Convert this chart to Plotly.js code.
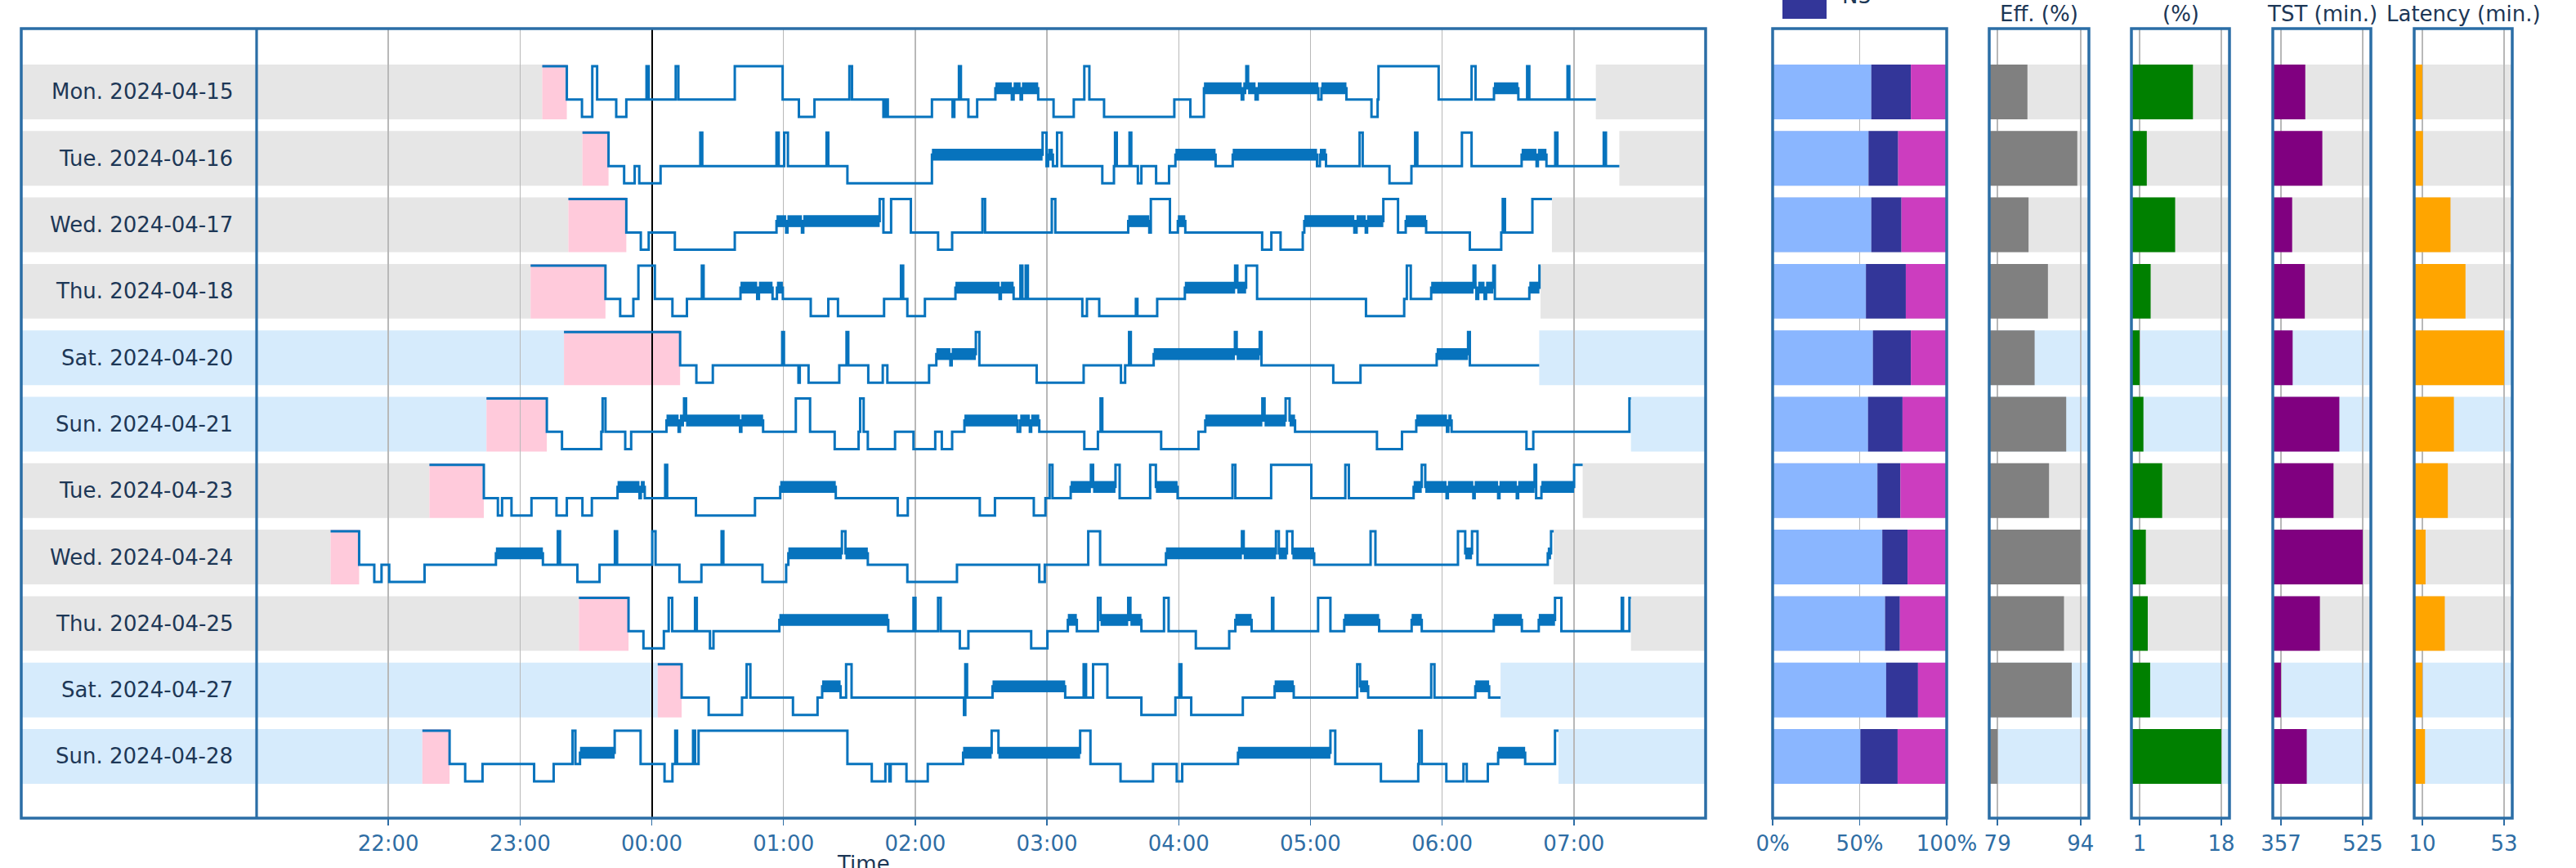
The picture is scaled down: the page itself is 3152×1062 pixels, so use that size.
<!DOCTYPE html>
<html><head><meta charset="utf-8">
<script src="https://cdn.plot.ly/plotly-3.0.1.min.js"></script>
<style>html,body{margin:0;padding:0;background:#fff}#chart{width:3152px;height:1062px}</style>
</head><body><div id="chart"></div>
<script>
// ---------------- data ----------------
const nightLabels = ['Mon. 2024-04-15','Tue. 2024-04-16','Wed. 2024-04-17','Thu. 2024-04-18','Sat. 2024-04-20','Sun. 2024-04-21','Tue. 2024-04-23','Wed. 2024-04-24','Thu. 2024-04-25','Sat. 2024-04-27','Sun. 2024-04-28'];
const weekend = [false,false,false,false,true,true,false,false,false,true,true];
// minutes relative to midnight: [start, stage]; first entry = lights off (awake in bed), second = sleep onset
const hyp0 = [[-49.9,'W'],[-38.7,'L'],[-31.8,'D'],[-27.1,'W'],[-24.9,'L'],[-16.2,'D'],[-11.6,'L'],[-2.4,'W'],[-1.4,'L'],[10.9,'W'],[12.1,'L'],[37.8,'W'],[59.6,'L'],[67,'D'],[74.1,'L'],[90,'W'],[91.2,'L'],[105.5,'D'],[106.5,'L'],[107.5,'D'],[127.6,'L'],[137,'D'],[137.8,'L'],[139.9,'W'],[140.8,'L'],[144.2,'D'],[148.2,'L'],[156.5,'R'],[164,'L'],[164.8,'R'],[168,'L'],[168.6,'R'],[176,'L'],[183,'D'],[192.2,'L'],[197,'W'],[199.3,'L'],[206,'D'],[238,'L'],[245.3,'D'],[251.5,'R'],[268.7,'L'],[269.4,'R'],[270.8,'W'],[271.6,'R'],[275,'L'],[276,'R'],[303.6,'L'],[305,'R'],[316.4,'L'],[327.8,'D'],[330.6,'L'],[331,'W'],[358.4,'L'],[373.4,'W'],[375.2,'L'],[383.6,'R'],[394.7,'L'],[398.7,'W'],[399.7,'L'],[417.1,'W'],[417.9,'L']];
const hyp1 = [[-31.6,'W'],[-19.7,'L'],[-12.6,'D'],[-7.8,'L'],[-5.7,'D'],[4,'L'],[22.1,'W'],[23,'L'],[56.8,'W'],[57.8,'L'],[60.3,'W'],[62,'L'],[79.6,'W'],[80.4,'L'],[89.1,'D'],[127.6,'R'],[178,'W'],[179.8,'L'],[180.5,'R'],[182.7,'L'],[184.6,'W'],[186.7,'L'],[205.2,'D'],[210.5,'L'],[211,'W'],[211.8,'L'],[217.6,'W'],[218.4,'L'],[221.4,'D'],[223,'L'],[229.7,'D'],[235.6,'L'],[238.5,'R'],[256.8,'L'],[264.6,'R'],[303,'L'],[304.3,'R'],[307.1,'L'],[322.4,'W'],[323.8,'L'],[336,'D'],[346,'L'],[347.7,'W'],[348.7,'L'],[369,'W'],[373.4,'L'],[396.2,'R'],[403,'L'],[403.6,'R'],[407.5,'L'],[411.5,'W'],[412.5,'L'],[433.6,'W'],[434.6,'L']];
const hyp2 = [[-38,'W'],[-11.6,'L'],[-5,'D'],[-1.4,'L'],[10.5,'D'],[37.8,'L'],[56.8,'R'],[61.2,'L'],[61.8,'R'],[68.4,'L'],[69,'R'],[103.8,'W'],[105.5,'L'],[109,'W'],[118,'L'],[130.4,'D'],[136.8,'L'],[150.6,'W'],[151.8,'L'],[182.2,'W'],[183.8,'L'],[217,'R'],[226.6,'L'],[227.3,'W'],[236,'L'],[239.6,'R'],[243,'L'],[278,'D'],[282.2,'L'],[286.4,'D'],[296.5,'L'],[297.2,'R'],[320,'L'],[321,'R'],[325.2,'L'],[325.8,'R'],[333.2,'W'],[339.9,'L'],[343.4,'R'],[352.7,'L'],[372.6,'D'],[386.9,'L'],[387.6,'W'],[388.6,'L'],[401.1,'W']];
const hyp3 = [[-55.2,'W'],[-21.1,'L'],[-14.4,'D'],[-8.4,'L'],[-6.1,'W'],[1.4,'L'],[9.4,'D'],[16,'L'],[22.8,'W'],[23.6,'L'],[40.4,'R'],[48,'L'],[48.8,'R'],[55,'L'],[57,'R'],[59.7,'L'],[72.4,'D'],[80.4,'L'],[84.8,'D'],[105.8,'L'],[113.5,'W'],[114.5,'L'],[116.4,'D'],[124.4,'L'],[138.3,'R'],[158.4,'L'],[159,'R'],[164.8,'L'],[167.9,'W'],[168.8,'L'],[170.3,'W'],[171.3,'L'],[196.1,'D'],[198.2,'L'],[203.8,'D'],[220.5,'L'],[221.2,'D'],[230.2,'L'],[242.8,'R'],[265.7,'W'],[266.7,'R'],[270.7,'W'],[275.7,'L'],[325.3,'D'],[342.7,'L'],[343.9,'W'],[345.7,'L'],[355,'R'],[374.3,'W'],[375.1,'R'],[375.6,'L'],[376.4,'R'],[379.3,'L'],[380,'R'],[383.3,'W'],[384,'L'],[399.7,'R'],[404.3,'W']];
const hyp4 = [[-40,'W'],[12.9,'L'],[20.3,'D'],[27.8,'L'],[59.4,'W'],[60.2,'L'],[66.8,'D'],[67.4,'L'],[71.4,'D'],[85.4,'L'],[88.7,'W'],[89.5,'L'],[98.6,'D'],[105.2,'L'],[107.3,'D'],[126.3,'L'],[129.6,'R'],[136,'L'],[136.6,'R'],[147.6,'W'],[149.2,'L'],[175.3,'D'],[196.7,'L'],[213.7,'D'],[215.6,'L'],[217.4,'W'],[218.2,'L'],[228.6,'R'],[265.6,'W'],[266.4,'R'],[276.9,'W'],[277.7,'L'],[310.4,'D'],[322.8,'L'],[357.5,'R'],[371.8,'W'],[372.6,'L']];
const hyp5 = [[-75.3,'W'],[-47.8,'L'],[-40.9,'D'],[-23,'L'],[-22.4,'W'],[-21.1,'L'],[-12.1,'D'],[-9.4,'L'],[6.7,'R'],[12.2,'L'],[12.8,'R'],[14.7,'W'],[15.6,'R'],[40.2,'L'],[40.8,'R'],[50.7,'L'],[65.6,'W'],[72.1,'L'],[83.3,'D'],[94.2,'L'],[94.9,'W'],[96.5,'L'],[98.4,'D'],[110.8,'L'],[119.2,'D'],[129.1,'L'],[132.1,'D'],[136.8,'L'],[142.4,'R'],[166.6,'L'],[167.8,'R'],[172.2,'L'],[172.8,'R'],[176.5,'L'],[197,'D'],[203.2,'L'],[204.4,'W'],[205.2,'L'],[232,'D'],[249,'L'],[252.1,'R'],[278.1,'W'],[279.1,'R'],[288.7,'W'],[290.5,'R'],[293,'L'],[330.3,'D'],[341.7,'L'],[348.2,'R'],[362.2,'L'],[362.8,'R'],[364.3,'L'],[398.4,'D'],[401.5,'L'],[445.3,'W']];
const hyp6 = [[-101.3,'W'],[-76.5,'L'],[-70.1,'D'],[-68.2,'L'],[-63.9,'D'],[-54.8,'L'],[-43.4,'D'],[-38.7,'L'],[-31.6,'D'],[-27.3,'L'],[-15.6,'R'],[-5.6,'L'],[-5,'R'],[-3.2,'L'],[6.1,'W'],[7,'L'],[20.1,'D'],[47,'L'],[58.5,'R'],[83.8,'L'],[112,'D'],[116.6,'L'],[149.4,'D'],[156.3,'L'],[174,'D'],[179.3,'L'],[181.2,'W'],[182.5,'L'],[190.8,'R'],[200,'W'],[201,'R'],[211.2,'W'],[213.1,'L'],[227,'W'],[229.6,'R'],[239.5,'L'],[264.5,'W'],[265.8,'L'],[282.1,'W'],[300.4,'L'],[315.9,'W'],[317.5,'L'],[347,'R'],[350.7,'W'],[352.3,'R'],[362,'L'],[362.6,'R'],[374.2,'L'],[374.8,'R'],[385.5,'L'],[386.1,'R'],[394,'L'],[394.6,'R'],[402.1,'W'],[402.8,'L'],[405.2,'R'],[420.1,'W']];
const hyp7 = [[-146.3,'W'],[-133.3,'L'],[-126.4,'D'],[-123.1,'L'],[-119.6,'D'],[-103.5,'L'],[-71,'R'],[-49.6,'L'],[-42.8,'W'],[-41.8,'L'],[-33.9,'D'],[-23.8,'L'],[-16.8,'W'],[-15.8,'L'],[0.2,'W'],[1.7,'L'],[12.6,'D'],[22.6,'L'],[31.8,'W'],[32.6,'L'],[50.4,'D'],[61.2,'L'],[62.2,'R'],[86.6,'W'],[88.2,'R'],[98.4,'L'],[116.4,'D'],[139,'L'],[176.5,'D'],[179,'L'],[198.8,'W'],[204.2,'L'],[234.2,'R'],[268.8,'W'],[269.6,'R'],[284.3,'W'],[285.6,'R'],[289.3,'W'],[291.8,'R'],[301.7,'L'],[327.4,'W'],[329.6,'L'],[367.2,'W'],[370.5,'R'],[373.6,'W'],[376.1,'L'],[408.1,'R'],[409.6,'W']];
const hyp8 = [[-33.2,'W'],[-10.6,'L'],[-3.8,'D'],[5.5,'L'],[7.7,'W'],[9.3,'L'],[19.7,'W'],[20.5,'L'],[26.5,'D'],[28.1,'L'],[58.1,'R'],[107.7,'L'],[119.2,'W'],[120.1,'L'],[130.4,'W'],[131.6,'L'],[140.3,'D'],[144.2,'L'],[172.8,'D'],[180.2,'L'],[189.5,'R'],[193.6,'L'],[203.2,'W'],[204.4,'R'],[217,'W'],[218,'R'],[223,'L'],[233.3,'W'],[235.4,'L'],[247.8,'D'],[263,'L'],[265.8,'R'],[273.2,'L'],[282.5,'W'],[283.1,'L'],[303.5,'W'],[309.1,'L'],[315.4,'R'],[331.3,'L'],[346.1,'R'],[350.7,'L'],[383.5,'R'],[396.3,'L'],[404,'R'],[411.4,'W'],[414.3,'L'],[441.8,'W'],[442.4,'L'],[445.3,'W']];
const hyp9 = [[2.7,'W'],[13.6,'L'],[25.9,'D'],[41.1,'L'],[43.2,'W'],[44.9,'L'],[64.3,'D'],[75.5,'L'],[77.6,'R'],[86,'L'],[88.5,'W'],[91,'L'],[142.2,'D'],[142.8,'W'],[143.6,'L'],[155.2,'R'],[188.3,'L'],[196.7,'W'],[197.8,'L'],[201,'W'],[207.5,'L'],[223,'D'],[238.5,'L'],[240.3,'W'],[241.2,'L'],[245.7,'D'],[269.2,'L'],[283.7,'R'],[292.4,'L'],[321.3,'W'],[322.6,'R'],[326.3,'L'],[355,'W'],[356.5,'L'],[375.1,'R'],[381.4,'L']];
const hyp10 = [[-104.5,'W'],[-92.1,'L'],[-85,'D'],[-77.1,'L'],[-53.6,'D'],[-44.7,'L'],[-36.1,'W'],[-34.8,'L'],[-32.7,'R'],[-16.9,'W'],[-5.1,'L'],[5.8,'D'],[9.4,'L'],[10.7,'W'],[11.5,'L'],[18.8,'W'],[19.7,'L'],[21.3,'W'],[89.1,'L'],[100.2,'D'],[106.4,'L'],[108.2,'D'],[108.8,'L'],[116,'D'],[125.7,'L'],[141.8,'R'],[154.8,'W'],[157.9,'R'],[195.1,'W'],[199.8,'L'],[213.5,'D'],[228.3,'L'],[239.1,'D'],[241.6,'L'],[267,'R'],[309.1,'W'],[311.3,'L'],[332.1,'D'],[349.1,'L'],[349.5,'W'],[350.7,'L'],[361.9,'D'],[369.7,'L'],[371.2,'D'],[380.8,'L'],[385.5,'R'],[397.8,'L'],[411.4,'W']];
const hypnograms = [hyp0,hyp1,hyp2,hyp3,hyp4,hyp5,hyp6,hyp7,hyp8,hyp9,hyp10];
const finalWake = [430,440.7,410,404.8,404.2,446,424,410.8,446,386.6,413];

const timeTickVals = [-120,-60,0,60,120,180,240,300,360,420];
const timeTickText = ['22:00','23:00','00:00','01:00','02:00','03:00','04:00','05:00','06:00','07:00'];

const lightPct = [56.7,55.1,56.7,53.6,57.6,54.8,60.2,63.0,64.6,65.2,50.4];
const n3Pct    = [22.7,17.0,17.3,22.9,21.8,19.8,13.2,14.5,8.5,18.3,21.4];
const remPct   = [20.6,27.9,26.0,23.5,20.6,25.4,26.6,22.5,26.9,16.5,28.2];
const efficiency = [84.4,93.4,84.6,88.1,85.7,91.4,88.3,94.0,91.0,92.4,79.0];
const wakePct    = [12.1,2.5,8.4,3.3,1.0,1.8,5.7,2.3,2.7,3.2,18.0];
const tstMin     = [407,442,380,406,381,477,465,525,437,357,410];
const latencyMin = [10,10.3,24.8,32.7,53,26.6,23.4,11.7,21.8,10,11.4];

const stageTicks = [0,50,100], stageTickText = ['0%','50%','100%'];
const effTicks = [79,94], wakeTicks = [1,18], tstTicks = [357,525], latTicks = [10,53];
const panelTitles = ['Eff. (%)','(%)','TST (min.)','Latency (min.)'];

// ---------------- layout helpers ----------------
const W = 3152, H = 1062;
const px = v => v / W, py = v => 1 - v / H;
const FRAME = '#2b6ea6', TICKC = '#2e6da4', LABELC = '#1d3756', GRID = '#b8b8b8';
const LINEC = '#0773bd';
const FONT = 'DejaVu Sans, sans-serif';
const levelOff = {W: -0.387, R: -0.055, L: 0.115, D: 0.375};
const halfBand = 0.412;
const xMainRange = [-287.2, 480];
const nRows = nightLabels.length;
const yRange = [10.929, -0.953];

const traces = [];
const shapes = [];
const annotations = [];

// hypnogram thin step lines + thick REM segments
hypnograms.forEach((h, i) => {
  const xs = h.map(p => p[0]).concat([finalWake[i]]);
  const ys = h.map(p => i + levelOff[p[1]]).concat([i + levelOff[h[h.length-1][1]]]);
  traces.push({x: xs, y: ys, xaxis: 'x', yaxis: 'y', mode: 'lines', type: 'scatter',
    line: {shape: 'hv', color: LINEC, width: 3}, hoverinfo: 'skip'});
  const rx = [], ry = [];
  h.forEach((p, k) => {
    if (p[1] === 'R') {
      const end = k + 1 < h.length ? h[k+1][0] : finalWake[i];
      rx.push(p[0], end, null); ry.push(i + levelOff.R, i + levelOff.R, null);
    }
  });
  traces.push({x: rx, y: ry, xaxis: 'x', yaxis: 'y', mode: 'lines', type: 'scatter',
    line: {color: LINEC, width: 14.5}, hoverinfo: 'skip'});
  const bed = h[0][0], onset = h[1][0];
  const bandCol = weekend[i] ? '#d6ebfc' : '#e6e6e6';
  shapes.push({type: 'rect', xref: 'x', yref: 'y', x0: xMainRange[0], x1: bed, y0: i - halfBand, y1: i + halfBand, fillcolor: bandCol, line: {width: 0}, layer: 'below'});
  shapes.push({type: 'rect', xref: 'x', yref: 'y', x0: bed, x1: onset, y0: i - halfBand, y1: i + halfBand, fillcolor: '#ffcadb', line: {width: 0}, layer: 'below'});
  shapes.push({type: 'rect', xref: 'x', yref: 'y', x0: finalWake[i], x1: xMainRange[1], y0: i - halfBand, y1: i + halfBand, fillcolor: bandCol, line: {width: 0}, layer: 'below'});
  annotations.push({xref: 'paper', yref: 'y', x: px(287), y: i, xanchor: 'right', yanchor: 'middle', text: nightLabels[i], showarrow: false, font: {family: FONT, size: 26, color: LABELC}});
});

const rows = nightLabels.map((_, i) => i);

// panels
const panelDomains = [[2169,2382],[2434,2556],[2608,2728],[2781,2901],[2954,3074]];
function padRange(t) { const s = t[t.length-1] - t[0]; return [t[0] - 0.1*s, t[t.length-1] + 0.1*s]; }
const panelRanges = [[0,100], padRange(effTicks), padRange(wakeTicks), padRange(tstTicks), padRange(latTicks)];
const panelTicks = [stageTicks, effTicks, wakeTicks, tstTicks, latTicks];
const panelTickText = [stageTickText, effTicks.map(String), wakeTicks.map(String), tstTicks.map(String), latTicks.map(String)];

panelDomains.forEach((d, k) => {
  const ax = 'x' + (k + 2);
  rows.forEach(i => {
    shapes.push({type: 'rect', xref: ax + ' domain', yref: 'y', x0: 0, x1: 1, y0: i - halfBand, y1: i + halfBand,
      fillcolor: weekend[i] ? '#d6ebfc' : '#e6e6e6', line: {width: 0}, layer: 'below'});
  });
});

// stacked stage bars
const cum1 = lightPct.map((v, i) => v + n3Pct[i]);
traces.push({type: 'bar', orientation: 'h', xaxis: 'x2', yaxis: 'y', y: rows, x: lightPct, base: rows.map(() => 0), width: 0.824, marker: {color: '#8ab6ff', line: {width: 0}}, hoverinfo: 'skip'});
traces.push({type: 'bar', orientation: 'h', xaxis: 'x2', yaxis: 'y', y: rows, x: n3Pct, base: lightPct, width: 0.824, marker: {color: '#333699', line: {width: 0}}, hoverinfo: 'skip'});
traces.push({type: 'bar', orientation: 'h', xaxis: 'x2', yaxis: 'y', y: rows, x: remPct, base: cum1, width: 0.824, marker: {color: '#cc3dbf', line: {width: 0}}, hoverinfo: 'skip'});
// single-value panels
const singles = [[efficiency, '#808080'], [wakePct, '#008000'], [tstMin, '#800080'], [latencyMin, '#ffa500']];
singles.forEach((s, k) => {
  const lo = panelRanges[k + 1][0];
  traces.push({type: 'bar', orientation: 'h', xaxis: 'x' + (k + 3), yaxis: 'y', y: rows,
    x: s[0].map(v => v - lo), base: rows.map(() => lo), width: 0.824,
    marker: {color: s[1], line: {width: 0}}, hoverinfo: 'skip'});
});

// frames
const frameAxes = ['x', 'x2', 'x3', 'x4', 'x5', 'x6'];
frameAxes.forEach(a => {
  shapes.push({type: 'rect', xref: a + ' domain', yref: 'y domain', x0: 0, x1: 1, y0: 0, y1: 1,
    line: {color: FRAME, width: 3.5}, fillcolor: 'rgba(0,0,0,0)', layer: 'above'});
});
// label-column divider
shapes.push({type: 'line', xref: 'x', yref: 'y domain', x0: -180, x1: -180, y0: 0, y1: 1, line: {color: FRAME, width: 3.2}, layer: 'above'});
// legend swatch (partially outside the canvas, as in the reference)
shapes.push({type: 'rect', xref: 'paper', yref: 'paper', x0: px(2181), x1: px(2235), y0: py(23), y1: py(-12), fillcolor: '#333699', line: {width: 0}, layer: 'above'});
annotations.push({xref: 'paper', yref: 'paper', x: px(2252), y: py(-5), xanchor: 'left', yanchor: 'middle', text: 'N3', showarrow: false, font: {family: FONT, size: 26, color: LABELC}});

// panel titles
[2, 3, 4, 5].forEach((k, j) => {
  const d = panelDomains[k - 1];
  annotations.push({xref: 'paper', yref: 'paper', x: px((d[0] + d[1]) / 2), y: py(17), xanchor: 'center', yanchor: 'middle',
    text: panelTitles[j], showarrow: false, font: {family: FONT, size: 26, color: LABELC}});
});
// x-axis title (cut by bottom edge, as in reference)
annotations.push({xref: 'paper', yref: 'paper', x: px(1056), y: py(1040), xanchor: 'center', yanchor: 'top', text: 'Time', showarrow: false, font: {family: FONT, size: 26, color: LABELC}});

const axisCommon = {showline: false, ticks: 'outside', ticklen: 8, tickwidth: 1.5, tickcolor: TICKC,
  tickfont: {family: FONT, size: 26, color: TICKC}, showgrid: true, gridcolor: GRID, gridwidth: 1.5, zeroline: false, fixedrange: true, anchor: 'y'};

const layout = {
  width: W, height: H, margin: {l: 0, r: 0, t: 0, b: 0}, paper_bgcolor: '#ffffff', plot_bgcolor: 'rgba(0,0,0,0)',
  showlegend: false, hovermode: false, barmode: 'overlay', font: {family: FONT},
  xaxis: Object.assign({}, axisCommon, {domain: [px(26), px(2087)], range: xMainRange, tickmode: 'array', tickvals: timeTickVals, ticktext: timeTickText,
    zeroline: true, zerolinecolor: '#000000', zerolinewidth: 2}),
  yaxis: {domain: [py(1001), py(35)], range: yRange, showgrid: false, zeroline: false, showticklabels: false, ticks: '', showline: false, fixedrange: true},
  shapes: shapes, annotations: annotations
};
panelDomains.forEach((d, k) => {
  layout['xaxis' + (k + 2)] = Object.assign({}, axisCommon, {domain: [px(d[0]), px(d[1])], range: panelRanges[k], tickmode: 'array', tickvals: panelTicks[k], ticktext: panelTickText[k]});
});

Plotly.newPlot('chart', traces, layout, {staticPlot: true, displayModeBar: false});
</script></body></html>
